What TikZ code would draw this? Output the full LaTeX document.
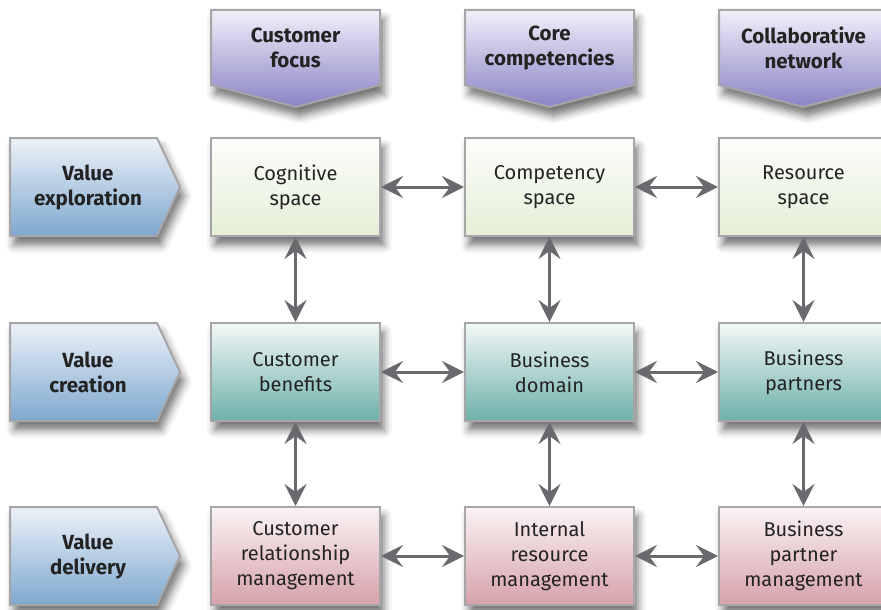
\documentclass[tikz,border=0pt]{standalone}
\usepackage{fontspec}
\setmainfont{Fira Sans}
\usetikzlibrary{arrows.meta,shadows.blur}
\definecolor{framegray}{HTML}{A6A6A8}
\definecolor{linkgray}{HTML}{6A6A6E}
\definecolor{inkgray}{HTML}{232323}
\definecolor{headtop}{HTML}{F1F0F9}
\definecolor{headbot}{HTML}{8A83C6}
\definecolor{stagetop}{HTML}{EDF2F8}
\definecolor{stagebot}{HTML}{7EA8CF}
\definecolor{spacetop}{HTML}{FCFDFA}
\definecolor{spacebot}{HTML}{E5EFD7}
\definecolor{benefittop}{HTML}{F2F8F7}
\definecolor{benefitbot}{HTML}{6DB0AA}
\definecolor{managetop}{HTML}{FAF3F4}
\definecolor{managebot}{HTML}{D6A1AA}
\tikzset{every picture/.style={x=1pt,y=-1pt}}
\tikzset{framed/.style={draw=framegray, line width=2pt,
           blur shadow={shadow xshift=4pt, shadow yshift=-9pt, shadow blur radius=8pt, shadow opacity=55}},
         cell/.style={framed, minimum width=169pt, minimum height=98pt, inner sep=0pt, align=center,
           text=inkgray, font=\fontsize{20}{25}\selectfont},
         explore/.style={cell, top color=spacetop, bottom color=spacebot},
         create/.style={cell, top color=benefittop, bottom color=benefitbot},
         deliver/.style={cell, top color=managetop, bottom color=managebot},
         colhead/.style={framed, top color=headtop, bottom color=headbot},
         rowhead/.style={framed, top color=stagetop, bottom color=stagebot},
         caption/.style={align=center, inner sep=0pt, text=inkgray, font=\bfseries\fontsize{20.5}{25}\selectfont},
         link/.style={draw=linkgray, line width=3pt,
           {Stealth[length=22pt,width=22pt,inset=8pt]}-{Stealth[length=22pt,width=22pt,inset=8pt]}}}

\begin{document}
\begin{tikzpicture}
   \useasboundingbox (0,0) rectangle (881,610);
   \clip (0,0) rectangle (881,610);
   % column headers
   \path[colhead] (211,10) -- (380,10) -- (380,85) -- (295.5,107) -- (211,85) -- cycle;
   \path[colhead] (465,10) -- (634,10) -- (634,85) -- (549.5,107) -- (465,85) -- cycle;
   \path[colhead] (719,10) -- (888,10) -- (888,85) -- (803.5,107) -- (719,85) -- cycle;
   \node[caption] (focus) at (295.5,48) {Customer\\focus};
   \node[caption] (core) at (549.5,48) {Core\\competencies};
   \node[caption] (network) at (803.5,48) {Collaborative\\network};
   % row headers
   \path[rowhead] (10,138) -- (157,138) -- (180,187) -- (157,236) -- (10,236) -- cycle;
   \path[rowhead] (10,323) -- (157,323) -- (180,372) -- (157,421) -- (10,421) -- cycle;
   \path[rowhead] (10,507) -- (157,507) -- (180,556) -- (157,605) -- (10,605) -- cycle;
   \node[caption] (exploration) at (88,187) {Value\\exploration};
   \node[caption] (creation) at (88,372) {Value\\creation};
   \node[caption] (delivery) at (88,556) {Value\\delivery};
   % value exploration
   \node[explore] (cognitive) at (295.5,187) {Cognitive\\space};
   \node[explore] (competency) at (549.5,187) {Competency\\space};
   \node[explore] (resource) at (803.5,187) {Resource\\space};
   % value creation
   \node[create] (benefits) at (295.5,372) {Customer\\benefits};
   \node[create] (domain) at (549.5,372) {Business\\domain};
   \node[create] (partners) at (803.5,372) {Business\\partners};
   % value delivery
   \node[deliver] (crm) at (295.5,556) {Customer\\relationship\\management};
   \node[deliver] (internal) at (549.5,556) {Internal\\resource\\management};
   \node[deliver] (partnermgmt) at (803.5,556) {Business\\partner\\management};
   % links
   \draw[link] (cognitive.east) -- (competency.west);
   \draw[link] (competency.east) -- (resource.west);
   \draw[link] (benefits.east) -- (domain.west);
   \draw[link] (domain.east) -- (partners.west);
   \draw[link] (crm.east) -- (internal.west);
   \draw[link] (internal.east) -- (partnermgmt.west);
   \draw[link] (cognitive.south) -- (benefits.north);
   \draw[link] (competency.south) -- (domain.north);
   \draw[link] (resource.south) -- (partners.north);
   \draw[link] (benefits.south) -- (crm.north);
   \draw[link] (domain.south) -- (internal.north);
   \draw[link] (partners.south) -- (partnermgmt.north);
\end{tikzpicture}
\end{document}
